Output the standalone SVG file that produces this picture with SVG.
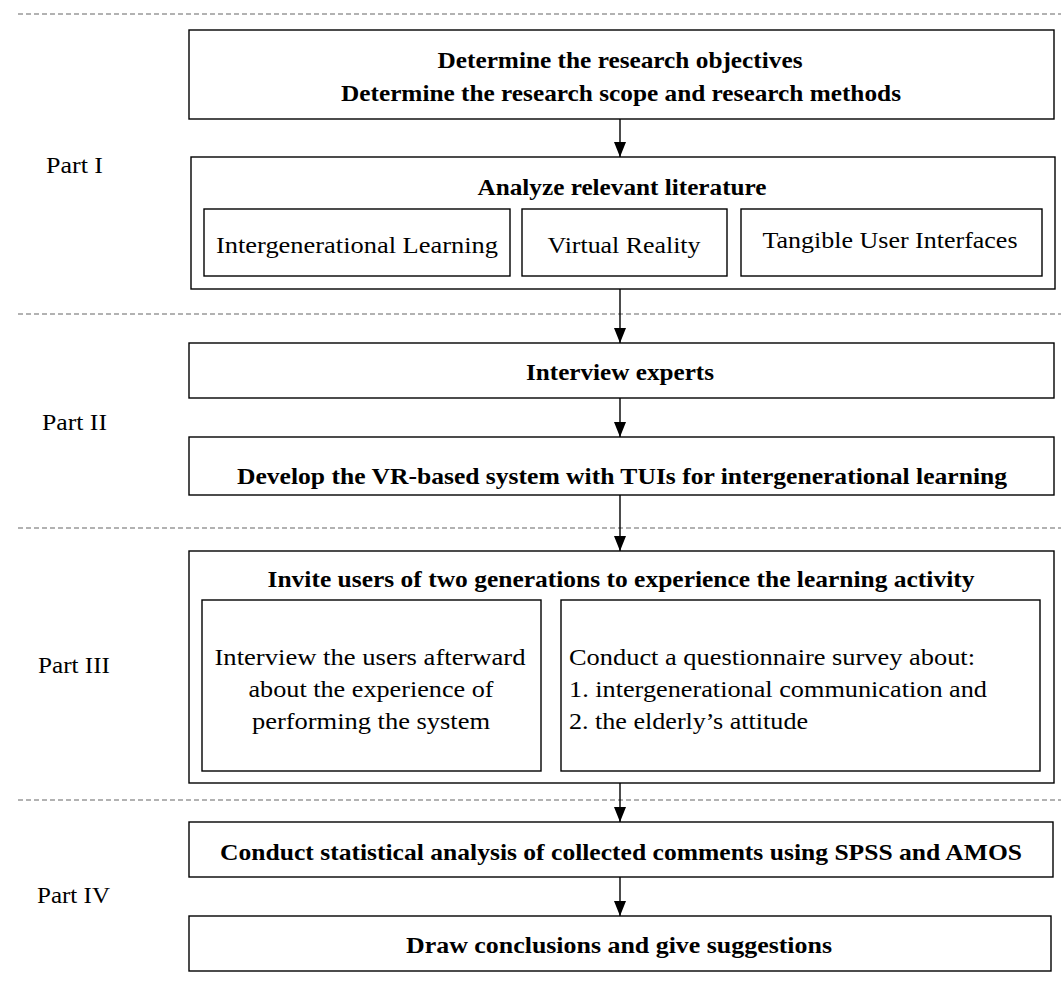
<svg xmlns="http://www.w3.org/2000/svg" width="1061" height="983" viewBox="0 0 1061 983">
<style>
.box{fill:#fff;stroke:#000;stroke-width:1.4}
.dash{stroke:#666;stroke-width:1.2;stroke-dasharray:5 3}
.b{font-family:"Liberation Serif","DejaVu Serif",serif;font-weight:bold;font-size:23px;text-anchor:middle;fill:#000}
.r{font-family:"Liberation Serif","DejaVu Serif",serif;font-size:24px;text-anchor:middle;fill:#000}
.l{font-family:"Liberation Serif","DejaVu Serif",serif;font-size:24px;text-anchor:start;fill:#000}
.c{stroke:#000;stroke-width:1.4;fill:none;marker-end:url(#ah)}
</style>
<defs>
<marker id="ah" viewBox="0 0 15 12" refX="15" refY="6" markerWidth="15" markerHeight="12" markerUnits="userSpaceOnUse" orient="auto">
<path d="M0,0 L15,6 L0,12 Z" fill="#000"/>
</marker>
</defs>
<rect width="1061" height="983" fill="#fff"/>
<g id="separators">
<line class="dash" x1="18" y1="14" x2="1061" y2="14"/>
<line class="dash" x1="18" y1="314" x2="1061" y2="314"/>
<line class="dash" x1="18" y1="528" x2="1061" y2="528"/>
<line class="dash" x1="18" y1="800" x2="1061" y2="800"/>
</g>
<g id="labels">
<text class="l" x="46" y="173" textLength="57" lengthAdjust="spacingAndGlyphs">Part I</text>
<text class="l" x="42" y="430" textLength="65" lengthAdjust="spacingAndGlyphs">Part II</text>
<text class="l" x="38" y="673" textLength="72" lengthAdjust="spacingAndGlyphs">Part III</text>
<text class="l" x="37" y="903" textLength="73" lengthAdjust="spacingAndGlyphs">Part IV</text>
</g>
<g id="n1">
<rect class="box" x="189" y="30" width="865" height="89"/>
<text class="b" x="620" y="68" textLength="365" lengthAdjust="spacingAndGlyphs">Determine the research objectives</text>
<text class="b" x="621" y="101" textLength="560" lengthAdjust="spacingAndGlyphs">Determine the research scope and research methods</text>
</g>
<g id="n2">
<rect class="box" x="191" y="157" width="864" height="132"/>
<text class="b" x="622" y="195" textLength="289" lengthAdjust="spacingAndGlyphs">Analyze relevant literature</text>
<g id="n2a"><rect class="box" x="204" y="209" width="306" height="67"/><text class="r" x="357" y="253" textLength="282" lengthAdjust="spacingAndGlyphs">Intergenerational Learning</text></g>
<g id="n2b"><rect class="box" x="522" y="209" width="205" height="67"/><text class="r" x="624" y="253" textLength="153" lengthAdjust="spacingAndGlyphs">Virtual Reality</text></g>
<g id="n2c"><rect class="box" x="741" y="209" width="301" height="67"/><text class="r" x="890" y="248" textLength="255" lengthAdjust="spacingAndGlyphs">Tangible User Interfaces</text></g>
</g>
<g id="n3">
<rect class="box" x="189" y="343" width="865" height="55"/>
<text class="b" x="620" y="380" textLength="188" lengthAdjust="spacingAndGlyphs">Interview experts</text>
</g>
<g id="n4">
<rect class="box" x="189" y="437" width="865" height="58"/>
<text class="b" x="622" y="484" textLength="770" lengthAdjust="spacingAndGlyphs">Develop the VR-based system with TUIs for intergenerational learning</text>
</g>
<g id="n5">
<rect class="box" x="189" y="551" width="865" height="232"/>
<text class="b" x="621" y="587" textLength="707" lengthAdjust="spacingAndGlyphs">Invite users of two generations to experience the learning activity</text>
<g id="n5a"><rect class="box" x="202" y="600" width="339" height="171"/>
<text class="r" x="370" y="665" textLength="311" lengthAdjust="spacingAndGlyphs">Interview the users afterward</text>
<text class="r" x="371" y="697" textLength="245" lengthAdjust="spacingAndGlyphs">about the experience of</text>
<text class="r" x="371" y="729" textLength="238" lengthAdjust="spacingAndGlyphs">performing the system</text></g>
<g id="n5b"><rect class="box" x="561" y="600" width="479" height="171"/>
<text class="l" x="569" y="665" textLength="406" lengthAdjust="spacingAndGlyphs">Conduct a questionnaire survey about:</text>
<text class="l" x="569" y="697" textLength="418" lengthAdjust="spacingAndGlyphs">1. intergenerational communication and</text>
<text class="l" x="569" y="729" textLength="239" lengthAdjust="spacingAndGlyphs">2. the elderly’s attitude</text></g>
</g>
<g id="n6">
<rect class="box" x="189" y="822" width="864" height="55"/>
<text class="b" x="621" y="860" textLength="802" lengthAdjust="spacingAndGlyphs">Conduct statistical analysis of collected comments using SPSS and AMOS</text>
</g>
<g id="n7">
<rect class="box" x="189" y="916" width="862" height="55"/>
<text class="b" x="619" y="953" textLength="426" lengthAdjust="spacingAndGlyphs">Draw conclusions and give suggestions</text>
</g>
<g id="connectors">
<line class="c" x1="620" y1="119" x2="620" y2="157"/>
<line class="c" x1="620" y1="289" x2="620" y2="343"/>
<line class="c" x1="620" y1="398" x2="620" y2="437"/>
<line class="c" x1="620" y1="495" x2="620" y2="551"/>
<line class="c" x1="620" y1="783" x2="620" y2="822"/>
<line class="c" x1="620" y1="877" x2="620" y2="916"/>
</g>
</svg>
